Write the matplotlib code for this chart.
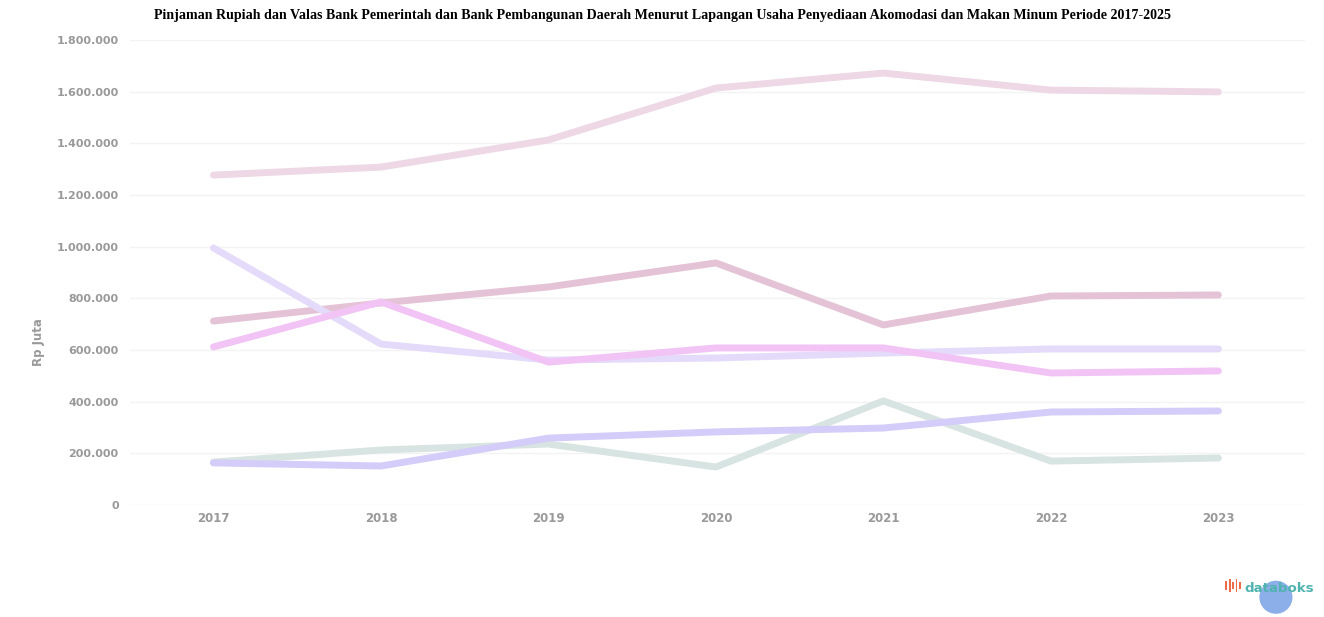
import matplotlib.pyplot as plt
from matplotlib.patches import Ellipse, Rectangle

# data
years = [2017, 2018, 2019, 2020, 2021, 2022, 2023]
seri_1 = [1277000, 1308000, 1413000, 1614000, 1672000, 1606000, 1599000]
seri_2 = [712000, 782000, 844000, 937000, 697000, 809000, 813000]
seri_3 = [995000, 623000, 561000, 569000, 588000, 604000, 604000]
seri_4 = [612000, 786000, 553000, 608000, 608000, 511000, 519000]
seri_5 = [163000, 151000, 259000, 283000, 298000, 360000, 364000]
seri_6 = [166000, 213000, 236000, 147000, 403000, 170000, 182000]
yticks = [0, 200000, 400000, 600000, 800000, 1000000, 1200000, 1400000, 1600000, 1800000]
ytick_labels = ['0', '200.000', '400.000', '600.000', '800.000', '1.000.000',
                '1.200.000', '1.400.000', '1.600.000', '1.800.000']

colors = ['#eed8e5', '#e5c3d6', '#e4dbfa', '#f1c4f5', '#d4ccf9', '#d8e4e1']

fig = plt.figure(figsize=(13.24, 6.17), dpi=100)
ax = fig.add_axes([0.098, 0.1815, 0.888, 0.7537])

series = [seri_1, seri_2, seri_3, seri_6, seri_5, seri_4]
cols = [colors[0], colors[1], colors[2], colors[5], colors[4], colors[3]]
for s, c in zip(series, cols):
    ax.plot(years, s, color=c, lw=5, solid_capstyle='round', solid_joinstyle='round')

ax.set_xlim(2016.5, 2023.52)
ax.set_ylim(0, 1800000)
ax.set_xticks(years)
ax.set_xticklabels([str(y) for y in years], fontsize=8.5, color='#999999', fontweight='bold')
ax.set_yticks(yticks)
ax.set_yticklabels(ytick_labels, fontsize=8, color='#999999', fontweight='bold')
ax.tick_params(length=0, pad=8)
ax.tick_params(axis='x', pad=5)
ax.grid(axis='y', color='#f3f3f3', lw=1)
ax.set_axisbelow(True)
for sp in ax.spines.values():
    sp.set_visible(False)

fig.text(0.029, 0.445, 'Rp Juta', rotation=90, fontsize=8.5, color='#999999',
         fontweight='bold', ha='center', va='center')

fig.text(0.5, 0.986, 'Pinjaman Rupiah dan Valas Bank Pemerintah dan Bank Pembangunan Daerah Menurut '
         'Lapangan Usaha Penyediaan Akomodasi dan Makan Minum Periode 2017-2025',
         ha='center', va='top', fontsize=10.1, fontweight='bold', family='Liberation Serif')

# databoks logo + chat bubble
for i, h in enumerate([0.014, 0.022, 0.012, 0.020, 0.010]):
    fig.add_artist(Rectangle((0.9255 + i * 0.0026, 0.040 + (0.022 - h) * 0.5), 0.0013, h,
                             transform=fig.transFigure, color='#ef6c4a', lw=0))
fig.text(0.9395, 0.046, 'databoks', fontsize=9.6, color='#4fb3b0', fontweight='bold',
         va='center', ha='left')
fig.add_artist(Ellipse((0.9637, 0.032), 0.025, 0.025 * 1324 / 617, transform=fig.transFigure,
                       color='#5b8ee0', alpha=0.7, lw=0))

fig.savefig('out.png', dpi=100, facecolor='white')
